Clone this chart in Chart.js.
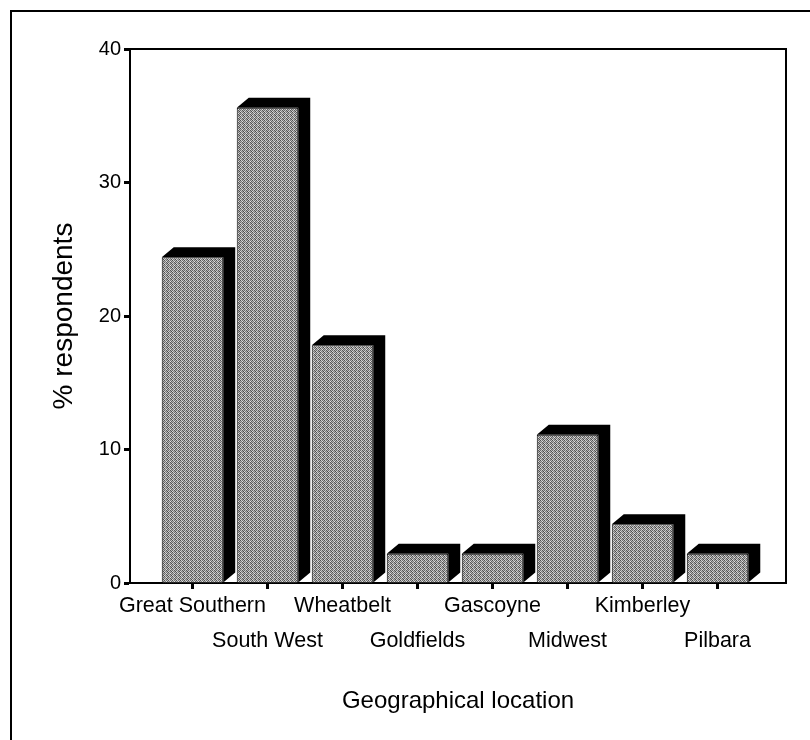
<!DOCTYPE html>
<html>
<head>
<meta charset="utf-8">
<script src="https://cdn.jsdelivr.net/npm/chart.js@4/dist/chart.umd.min.js"></script>
<style>
  html, body { margin: 0; padding: 0; background: #fff; }
  canvas { display: block; }
</style>
</head>
<body>
<canvas id="chart" width="810" height="740"></canvas>
<script>
const categories = ['Great Southern', 'South West', 'Wheatbelt', 'Goldfields', 'Gascoyne', 'Midwest', 'Kimberley', 'Pilbara'];
const respondents = [24.4, 35.6, 17.8, 2.2, 2.2, 11.1, 4.4, 2.2];
const yTicks = [0, 10, 20, 30, 40];

const FONT = '"Liberation Sans", Arial, sans-serif';
const DEPTH_X = 12;
const DEPTH_Y = 10;

// halftone-ish grey for the bar fronts
function makeGreyPattern(ctx) {
    const shades = [
        [0x50, 0xd0, 0x70, 0xc0],
        [0xb0, 0x78, 0xe0, 0x60],
        [0x68, 0xc8, 0x58, 0xb8],
        [0xd8, 0x80, 0xa8, 0x48]
    ];
    const c = document.createElement('canvas');
    c.width = 4; c.height = 4;
    const g = c.getContext('2d');
    shades.forEach((row, y) => row.forEach((v, x) => {
        g.fillStyle = `rgb(${v},${v},${v})`;
        g.fillRect(x, y, 1, 1);
    }));
    return ctx.createPattern(c, 'repeat');
}

// black top and side faces behind each bar front
const extrude = {
    id: 'extrude',
    afterDatasetsDraw(chart) {
        const ctx = chart.ctx;
        ctx.save();
        ctx.fillStyle = '#000';
        chart.getDatasetMeta(0).data.forEach(bar => {
            const { x, y, base, width } = bar.getProps(['x', 'y', 'base', 'width'], true);
            const l = x - width / 2, r = x + width / 2;
            ctx.beginPath();
            ctx.moveTo(l, y);
            ctx.lineTo(l + DEPTH_X, y - DEPTH_Y);
            ctx.lineTo(r + DEPTH_X, y - DEPTH_Y);
            ctx.lineTo(r + DEPTH_X, base - DEPTH_Y);
            ctx.lineTo(r, base);
            ctx.lineTo(r, y);
            ctx.closePath();
            ctx.fill();
        });
        ctx.restore();
    }
};

// outer frame plus the top/right edges of the plot box
const frame = {
    id: 'frame',
    afterDraw(chart) {
        const { ctx, chartArea: a } = chart;
        ctx.save();
        ctx.strokeStyle = '#000';
        ctx.lineWidth = 2;
        ctx.beginPath();
        ctx.moveTo(11, 740);
        ctx.lineTo(11, 11);
        ctx.lineTo(810, 11);
        ctx.stroke();
        ctx.beginPath();
        ctx.moveTo(a.left - 1, a.top);
        ctx.lineTo(a.right, a.top);
        ctx.lineTo(a.right, a.bottom);
        ctx.stroke();
        ctx.restore();
    }
};

const ctx = document.getElementById('chart').getContext('2d');

new Chart(ctx, {
    type: 'bar',
    data: {
        datasets: [{
            data: categories.map((c, i) => ({ x: i, y: respondents[i] })),
            backgroundColor: makeGreyPattern(ctx),
            borderColor: '#000',
            borderWidth: 1,
            barPercentage: 0.82,
            categoryPercentage: 1
        }]
    },
    options: {
        responsive: false,
        animation: false,
        layout: { padding: { left: 45, top: 49, right: 24, bottom: 20 } },
        plugins: { legend: { display: false }, tooltip: { enabled: false } },
        scales: {
            x: {
                type: 'linear',
                offset: false,
                min: -0.833,
                max: 7.913,
                afterBuildTicks: s => { s.ticks = categories.map((c, i) => ({ value: i })); },
                afterFit: s => { s.height = 137; },
                ticks: {
                    autoSkip: false,
                    maxRotation: 0,
                    padding: 0,
                    color: '#000',
                    font: { family: FONT, size: 21.5, lineHeight: '35px' },
                    callback: (v, i) => i % 2 ? ['', categories[i]] : categories[i]
                },
                grid: { offset: false, drawOnChartArea: false, tickLength: 6, tickWidth: 3, color: '#000' },
                border: { color: '#000', width: 2 },
                title: {
                    display: true,
                    text: 'Geographical location',
                    color: '#000',
                    font: { family: FONT, size: 24 },
                    padding: { top: 0, bottom: 4 }
                }
            },
            y: {
                min: 0,
                max: 40,
                afterBuildTicks: s => { s.ticks = yTicks.map(v => ({ value: v })); },
                afterFit: s => { s.width = 85; },
                ticks: {
                    padding: 3,
                    color: '#000',
                    font: { family: FONT, size: 20 }
                },
                grid: { drawOnChartArea: false, tickLength: 6, tickWidth: 3, color: '#000' },
                border: { color: '#000', width: 2 },
                title: {
                    display: true,
                    text: '% respondents',
                    color: '#000',
                    font: { family: FONT, size: 28 },
                    padding: 2
                }
            }
        }
    },
    plugins: [extrude, frame]
});
</script>
</body>
</html>
